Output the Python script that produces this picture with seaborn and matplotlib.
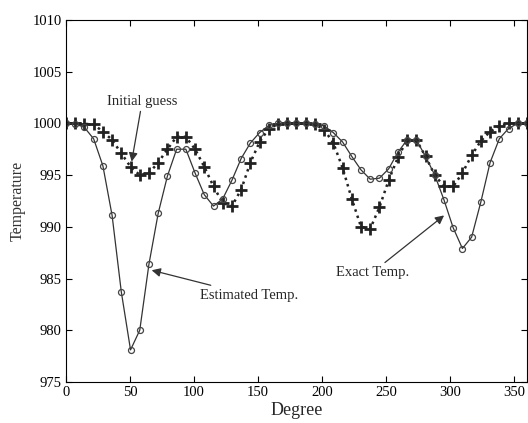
import numpy as np
import pandas as pd
import matplotlib
matplotlib.use("Agg")
import matplotlib.pyplot as plt
import seaborn as sns

degree = [0, 7.2, 14.4, 21.6, 28.8, 36, 43.2, 50.4, 57.6, 64.8, 72, 79.2, 86.4, 93.6,
          100.8, 108, 115.2, 122.4, 129.6, 136.8, 144, 151.2, 158.4, 165.6, 172.8, 180,
          187.2, 194.4, 201.6, 208.8, 216, 223.2, 230.4, 237.6, 244.8, 252, 259.2, 266.4,
          273.6, 280.8, 288, 295.2, 302.4, 309.6, 316.8, 324, 331.2, 338.4, 345.6, 352.8, 360]

estimated = [1000, 999.95, 999.6, 998.5, 995.9, 991.1, 983.7, 978.1, 980.0, 986.4, 991.3,
             994.9, 997.5, 997.5, 995.2, 993.1, 992.0, 992.7, 994.5, 996.6, 998.1, 999.1,
             999.8, 1000, 1000, 1000, 1000, 999.95, 999.75, 999.1, 998.2, 996.8, 995.5,
             994.6, 994.7, 995.6, 997.2, 998.4, 998.4, 996.8, 995.0, 992.6, 989.9, 987.9,
             989.0, 992.4, 996.2, 998.5, 999.5, 1000, 1000]

initial = [1000, 1000, 999.95, 999.9, 999.2, 998.4, 997.1, 995.8, 995.0, 995.2, 996.2,
           997.5, 998.7, 998.7, 997.5, 995.8, 993.9, 992.3, 992.0, 993.6, 996.2, 998.2,
           999.5, 999.9, 1000, 1000, 1000, 999.9, 999.4, 998.1, 995.7, 992.7, 990.0,
           989.8, 991.9, 994.5, 996.7, 998.4, 998.4, 996.8, 995.0, 993.9, 993.9, 995.2,
           996.9, 998.3, 999.2, 999.75, 1000, 1000, 1000]

xticks = [0, 50, 100, 150, 200, 250, 300, 350]
yticks = [975, 980, 985, 990, 995, 1000, 1005, 1010]

sns.set_style("ticks")
plt.rcParams['font.family'] = ['Liberation Serif', 'DejaVu Serif']

fig = plt.figure(figsize=(5.28, 4.23), dpi=100)
ax = fig.add_axes([0.125, 0.097, 0.873, 0.856])

df = pd.DataFrame({"Degree": degree, "Estimated": estimated, "Initial": initial})

sns.lineplot(data=df, x="Degree", y="Initial", ax=ax, color="#222222",
             linestyle=":", linewidth=1.8, marker="+", markersize=8,
             markeredgewidth=2.0, markeredgecolor="#222222")
sns.lineplot(data=df, x="Degree", y="Estimated", ax=ax, color="#333333",
             linewidth=0.9, marker="o", markersize=4.3, markerfacecolor="none",
             markeredgecolor="#444444", markeredgewidth=0.9)

ax.set_xlim(0, 360)
ax.set_ylim(975, 1010)
ax.set_xticks(xticks)
ax.set_yticks(yticks)
ax.tick_params(direction="in", top=True, right=True, labelsize=10.5, length=4,
               width=0.8, colors="black", pad=3)
for s in ax.spines.values():
    s.set_visible(True)
    s.set_linewidth(0.8)
    s.set_color("black")

ax.set_xlabel("Degree", fontsize=13, labelpad=2)
ax.set_ylabel("Temperature", fontsize=11.5, color="#333333", labelpad=5)

arrow = dict(arrowstyle="-|>", color="#333333", lw=0.9, mutation_scale=13,
             shrinkA=0, shrinkB=0)
ax.annotate("Initial guess", xy=(51.3, 996.3), xytext=(59.5, 1002.1),
            fontsize=10.5, ha="center", va="center", arrowprops=arrow)
ax.annotate("Estimated Temp.", xy=(66.9, 985.8), xytext=(104.7, 983.4),
            fontsize=10.5, ha="left", va="center", arrowprops=arrow)
ax.annotate("Exact Temp.", xy=(295.3, 991.1), xytext=(239.5, 985.6),
            fontsize=10.5, ha="center", va="center", arrowprops=arrow)

fig.savefig("out.png", dpi=100)
